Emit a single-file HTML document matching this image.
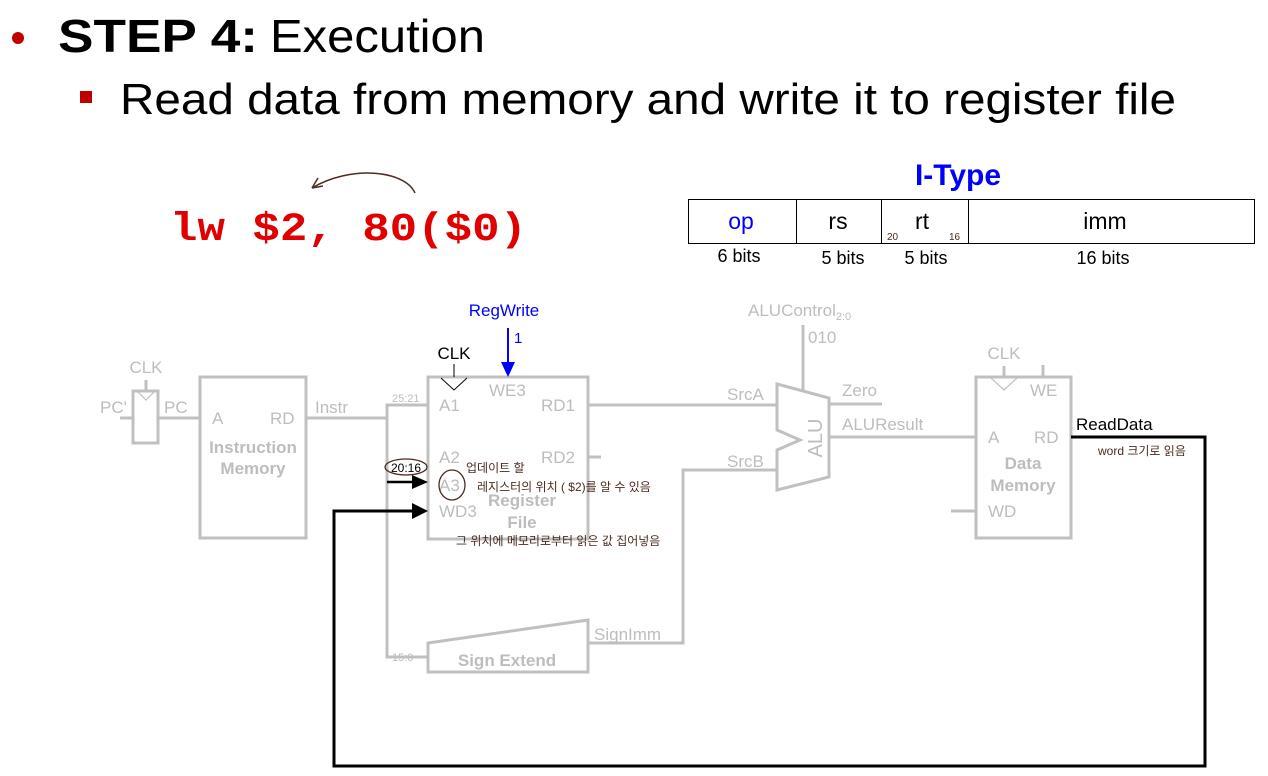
<!DOCTYPE html>
<html><head><meta charset="utf-8"><style>
html,body{margin:0;padding:0;background:#fff;}
svg{display:block;}
text{font-family:"Liberation Sans","Noto Sans CJK KR",sans-serif;}
</style></head><body>
<svg width="1268" height="776" viewBox="0 0 1268 776" xmlns="http://www.w3.org/2000/svg">
<!-- title -->
<circle cx="18" cy="38" r="6" fill="#c00000"/>
<text x="58" y="52" font-size="46" font-weight="bold" fill="#000" textLength="200" lengthAdjust="spacingAndGlyphs">STEP 4:</text>
<text x="270" y="52" font-size="46" fill="#000" textLength="215" lengthAdjust="spacingAndGlyphs">Execution</text>
<rect x="80" y="91" width="12" height="12" fill="#c00000"/>
<text x="120" y="114" font-size="44" fill="#000" textLength="1056" lengthAdjust="spacingAndGlyphs">Read data from memory and write it to register file</text>
<!-- handwritten arrow -->
<path d="M415,193 C405,170 350,165 312,188" fill="none" stroke="#4a2c20" stroke-width="1.5"/>
<path d="M312,188 L318,178 M312,188 L323,186" stroke="#4a2c20" stroke-width="1.5"/>
<text x="170" y="240" font-size="40" font-weight="bold" fill="#e00000" style="font-family:'Liberation Mono',monospace" textLength="357" lengthAdjust="spacingAndGlyphs">lw $2, 80($0)</text>
<!-- I-type -->
<text x="958" y="185" font-size="30" font-weight="bold" fill="#0000ff" text-anchor="middle">I-Type</text>
<rect x="688.5" y="199.5" width="566" height="44" fill="none" stroke="#000" stroke-width="1"/>
<line x1="796.5" y1="199" x2="796.5" y2="243" stroke="#000"/>
<line x1="881.5" y1="199" x2="881.5" y2="243" stroke="#000"/>
<line x1="968.5" y1="199" x2="968.5" y2="243" stroke="#000"/>
<text x="741" y="229" font-size="23" fill="#0000ff" text-anchor="middle">op</text>
<text x="838" y="229" font-size="23" text-anchor="middle">rs</text>
<text x="922" y="229" font-size="23" text-anchor="middle">rt</text>
<text x="1105" y="229" font-size="23" text-anchor="middle">imm</text>
<text x="887" y="240" font-size="10" fill="#4a2c20">20</text>
<text x="949" y="240" font-size="10" fill="#4a2c20">16</text>
<text x="739" y="262" font-size="18" text-anchor="middle">6 bits</text>
<text x="843" y="264" font-size="18" text-anchor="middle">5 bits</text>
<text x="926" y="264" font-size="18" text-anchor="middle">5 bits</text>
<text x="1103" y="264" font-size="18" text-anchor="middle">16 bits</text>

<g stroke="#c0c0c0" stroke-width="3" fill="none">
<rect x="133" y="391" width="25" height="52"/>
<line x1="120" y1="418" x2="133" y2="418"/>
<line x1="158" y1="418" x2="200" y2="418"/>
<line x1="146" y1="380" x2="146" y2="391"/>
<rect x="200" y="377" width="106" height="161"/>
<line x1="306" y1="418" x2="387" y2="418"/>
<polyline points="428,405 387,405 387,657 428,657"/>
<rect x="428" y="377" width="160" height="162"/>
<line x1="588" y1="405" x2="777" y2="405"/>
<line x1="588" y1="457" x2="601" y2="457"/>
<polygon points="428,643 588,620 588,672 428,672"/>
<polyline points="588,643 683,643 683,470 777,470"/>
<polygon points="777,384 829,398 829,477 777,490 777,450 800,440 777,430"/>
<line x1="803" y1="325" x2="803" y2="390"/>
<line x1="829" y1="404" x2="882" y2="404"/>
<line x1="829" y1="437" x2="976" y2="437"/>
<rect x="976" y="377" width="95" height="161"/>
<line x1="951" y1="511" x2="976" y2="511"/>
<line x1="1043" y1="365" x2="1043" y2="377"/>
<line x1="1004" y1="366" x2="1004" y2="377"/>
</g>
<g stroke="#c0c0c0" stroke-width="1.2" fill="none">
<polyline points="137,391 146,400 155,391"/>
<polyline points="991,378 1004,390 1017,378"/>
</g>
<g fill="#bdbdbd" font-size="17">
<text x="146" y="373" text-anchor="middle">CLK</text>
<text x="100" y="413">PC'</text>
<text x="164" y="413">PC</text>
<text x="212" y="424">A</text>
<text x="270" y="424">RD</text>
<text x="253" y="453" text-anchor="middle" font-weight="bold">Instruction</text>
<text x="253" y="474" text-anchor="middle" font-weight="bold">Memory</text>
<text x="315" y="413">Instr</text>
<text x="392" y="402" font-size="11">25:21</text>
<text x="392" y="661" font-size="11">15:0</text>
<text x="489" y="396">WE3</text>
<text x="439" y="411">A1</text>
<text x="541" y="411">RD1</text>
<text x="439" y="463">A2</text>
<text x="541" y="463">RD2</text>
<text x="439" y="491">A3</text>
<text x="439" y="517">WD3</text>
<text x="522" y="506" text-anchor="middle" font-weight="bold">Register</text>
<text x="522" y="528" text-anchor="middle" font-weight="bold">File</text>
<text x="507" y="666" text-anchor="middle" font-weight="bold">Sign Extend</text>
<text x="594" y="640">SignImm</text>
<text x="727" y="400">SrcA</text>
<text x="727" y="467">SrcB</text>
<text x="748" y="316">ALUControl<tspan font-size="11" dy="4">2:0</tspan></text>
<text x="808" y="343">010</text>
<text x="842" y="396">Zero</text>
<text x="842" y="430">ALUResult</text>
<text x="0" y="0" transform="translate(822,438) rotate(-90)" text-anchor="middle" font-size="20">ALU</text>
<text x="1004" y="359" text-anchor="middle">CLK</text>
<text x="1030" y="396">WE</text>
<text x="988" y="443">A</text>
<text x="1034" y="443">RD</text>
<text x="1023" y="469" text-anchor="middle" font-weight="bold">Data</text>
<text x="1023" y="491" text-anchor="middle" font-weight="bold">Memory</text>
<text x="988" y="517">WD</text>
</g>
<text x="454" y="359" font-size="17" text-anchor="middle">CLK</text>
<line x1="454" y1="364" x2="454" y2="377" stroke="#000"/>
<polyline points="441,378 454,390 467,378" fill="none" stroke="#000" stroke-width="1"/>
<text x="504" y="316" font-size="17" fill="#0000ff" text-anchor="middle">RegWrite</text>
<line x1="508" y1="328" x2="508" y2="364" stroke="#0000ff" stroke-width="2"/>
<path d="M501,362 L515,362 L508,377 z" fill="#0000ff"/>
<text x="514" y="343" font-size="15" fill="#0000ff">1</text>
<polyline points="1071,437 1205,437 1205,766 334,766 334,511 414,511" fill="none" stroke="#000" stroke-width="3"/>
<path d="M412,503 L428,511 L412,519 z" fill="#000"/>
<line x1="387" y1="482" x2="414" y2="482" stroke="#000" stroke-width="2.5"/>
<path d="M412,475 L428,482 L412,489 z" fill="#000"/>
<text x="1076" y="430" font-size="17">ReadData</text>
<ellipse cx="406" cy="467" rx="21" ry="8" fill="none" stroke="#4a2c20" stroke-width="1.3"/>
<text x="406" y="472" font-size="12" text-anchor="middle">20:16</text>
<ellipse cx="452" cy="485" rx="13" ry="15" fill="none" stroke="#4a2c20" stroke-width="1.3"/>
<g fill="#4a2c20" style="font-family:'Noto Sans CJK KR',sans-serif">
<text x="466" y="472" font-size="12">업데이트 할</text>
<text x="477" y="491" font-size="12">레지스터의 위치 ( $2)를 알 수 있음</text>
<text x="456" y="545" font-size="12">그 위치에 메모리로부터 읽은 값 집어넣음</text>
<text x="1098" y="455" font-size="12">word 크기로 읽음</text>
</g>
</svg>
</body></html>
